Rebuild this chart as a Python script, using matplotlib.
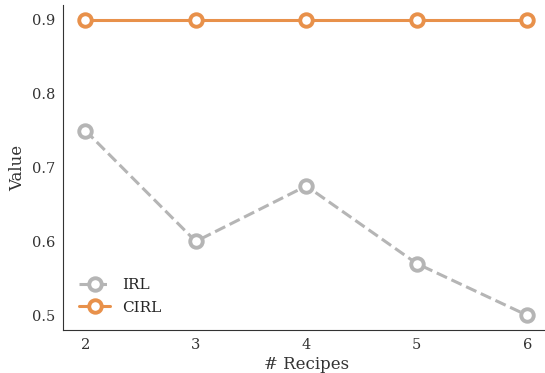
import matplotlib
matplotlib.use('Agg')
import matplotlib.pyplot as plt
import seaborn as sns

# data
recipes = [2, 3, 4, 5, 6]
irl = [0.75, 0.60, 0.675, 0.57, 0.50]
cirl = [0.90, 0.90, 0.90, 0.90, 0.90]

sns.set_style('white')
plt.rcParams['font.family'] = ['DejaVu Serif']

fig = plt.figure(figsize=(5.45, 3.73), dpi=100)
ax = fig.add_axes([0.116, 0.115, 0.892, 0.872])

ax.plot(recipes, irl, linestyle='--', color='#b5b5b5', lw=2.2, marker='o',
        markersize=9, markerfacecolor='white', markeredgewidth=2.8, label='IRL')
ax.plot(recipes, cirl, linestyle='-', color='#e8914b', lw=2.2, marker='o',
        markersize=9, markerfacecolor='white', markeredgewidth=2.8, label='CIRL')

ax.set_xticks(recipes)
ax.set_yticks([0.5, 0.6, 0.7, 0.8, 0.9])
ax.tick_params(labelsize=10.5, colors='#333333', pad=2)
ax.set_xlabel('# Recipes', fontsize=12, color='#333333', labelpad=3)
ax.set_ylabel('Value', fontsize=12, color='#333333')

for s in ['top', 'right']:
    ax.spines[s].set_visible(False)
for s in ['left', 'bottom']:
    ax.spines[s].set_color('#333333')

ax.legend(loc='lower left', bbox_to_anchor=(0.005, 0.005), frameon=False,
          fontsize=11, handlelength=2.0, labelspacing=0.55)

fig.savefig('out.png', dpi=100)
